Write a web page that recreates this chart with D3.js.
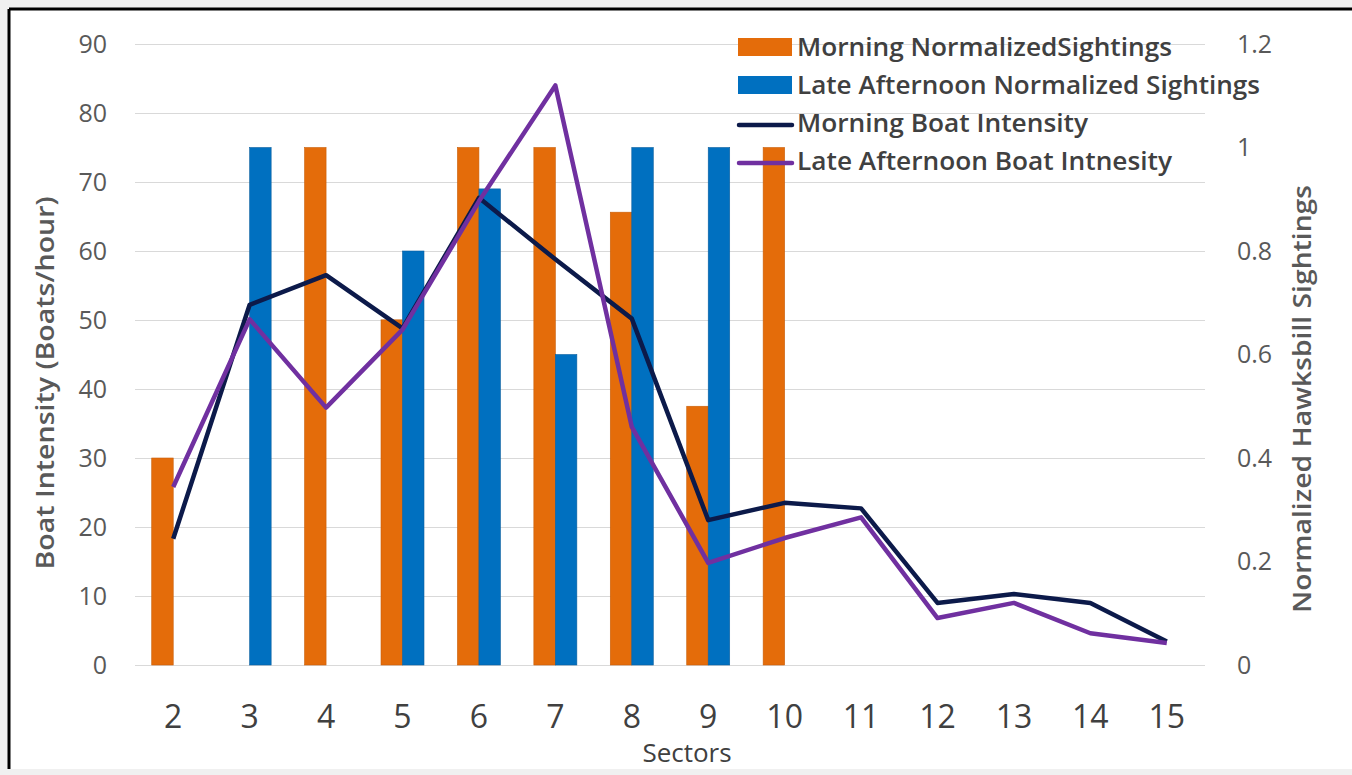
<!DOCTYPE html>
<html>
<head>
<meta charset="utf-8">
<script src="https://cdn.jsdelivr.net/npm/d3@7"></script>
<style>
  html, body { margin: 0; padding: 0; background: #f0f0f0; }
  svg { display: block; }
  text { font-family: "Open Sans", "Noto Sans", sans-serif; }
</style>
</head>
<body>
<svg id="chart" width="1352" height="775"></svg>
<script>
const sectors = [2, 3, 4, 5, 6, 7, 8, 9, 10, 11, 12, 13, 14, 15];
// normalized sightings (right axis); null = no bar
const morningSightings   = [0.4, null, 1.0, 0.667, 1.0, 1.0, 0.875, 0.5, 1.0, null, null, null, null, null];
const afternoonSightings = [null, 1.0, null, 0.8, 0.92, 0.6, 1.0, 1.0, null, null, null, null, null, null];
// boat intensity (left axis)
const morningBoats   = [18.3, 52.2, 56.5, 48.8, 67.7, 58.8, 50.2, 21.0, 23.5, 22.7, 9.0, 10.3, 9.0, 3.4];
const afternoonBoats = [25.8, 50.1, 37.3, 48.6, 67.2, 84.0, 34.5, 14.8, 18.4, 21.4, 6.8, 9.0, 4.6, 3.2];

const leftTicks = [0, 10, 20, 30, 40, 50, 60, 70, 80, 90];
const rightTicks = [0, 0.2, 0.4, 0.6, 0.8, 1, 1.2];
const rightTickLabels = ["0", "0.2", "0.4", "0.6", "0.8", "1", "1.2"];

const seriesNames = [
  "Morning NormalizedSightings",
  "Late Afternoon Normalized Sightings",
  "Morning Boat Intensity",
  "Late Afternoon Boat Intnesity"
];
const colors = { orange: "#E46C0A", blue: "#0070C0", navy: "#0C1A4A", purple: "#7030A0" };

const svg = d3.select("#chart");

// frame
svg.append("rect").attr("x", 8).attr("y", 8).attr("width", 1352 - 8).attr("height", 769 - 8).attr("fill", "#ffffff");
svg.append("line").attr("x1", 9).attr("x2", 1352).attr("y1", 9).attr("y2", 9).attr("stroke", "#000").attr("stroke-width", 3);
svg.append("line").attr("x1", 9).attr("x2", 9).attr("y1", 9).attr("y2", 769).attr("stroke", "#000").attr("stroke-width", 3);

const plot = { left: 135, right: 1205, top: 44, bottom: 665 };

const x = d3.scaleBand().domain(sectors).range([plot.left, plot.right]).paddingInner(0).paddingOuter(0);
const yL = d3.scaleLinear().domain([0, 90]).range([plot.bottom, plot.top]);
const yR = d3.scaleLinear().domain([0, 1.2]).range([plot.bottom, plot.top]);
const cx = d => x(d) + x.bandwidth() / 2;
const barW = 21.5;

// gridlines
svg.append("g").selectAll("line").data(leftTicks).join("line")
  .attr("x1", plot.left).attr("x2", plot.right)
  .attr("y1", d => Math.round(yL(d)) + 0.5).attr("y2", d => Math.round(yL(d)) + 0.5)
  .attr("stroke", "#d9d9d9").attr("stroke-width", 1);

// left axis
const axL = svg.append("g").attr("transform", `translate(${plot.left - 28},0)`)
  .call(d3.axisLeft(yL).tickValues(leftTicks).tickSize(0).tickPadding(0));
axL.select(".domain").remove();
axL.selectAll("text").attr("font-size", 25).attr("fill", "#595959")
  .attr("font-family", "'Open Sans', sans-serif").attr("dy", "0.33em");

// right axis
const axR = svg.append("g").attr("transform", `translate(1237,0)`)
  .call(d3.axisRight(yR).tickValues(rightTicks).tickSize(0).tickPadding(0)
    .tickFormat((d, i) => rightTickLabels[i]));
axR.select(".domain").remove();
axR.selectAll("text").attr("font-size", 25).attr("fill", "#595959")
  .attr("font-family", "'Open Sans', sans-serif").attr("dy", "0.33em");

// x axis labels
const axX = svg.append("g").attr("transform", `translate(0,${plot.bottom})`)
  .call(d3.axisBottom(x).tickSize(0).tickPadding(0));
axX.select(".domain").remove();
axX.selectAll("text").attr("font-size", 32).attr("fill", "#404040")
  .attr("font-family", "'Open Sans', sans-serif").attr("dy", null).attr("y", 63);

// bars
svg.append("g").selectAll("rect")
  .data(sectors.map((s, i) => ({ s, v: morningSightings[i] })).filter(d => d.v !== null))
  .join("rect")
  .attr("x", d => cx(d.s) - barW).attr("width", barW)
  .attr("y", d => yR(d.v)).attr("height", d => yR(0) - yR(d.v))
  .attr("fill", colors.orange).attr("stroke", "#c85f0a").attr("stroke-width", 0.6);
svg.append("g").selectAll("rect")
  .data(sectors.map((s, i) => ({ s, v: afternoonSightings[i] })).filter(d => d.v !== null))
  .join("rect")
  .attr("x", d => cx(d.s)).attr("width", barW)
  .attr("y", d => yR(d.v)).attr("height", d => yR(0) - yR(d.v))
  .attr("fill", colors.blue).attr("stroke", "#0a5f9e").attr("stroke-width", 0.6);

// lines
const line = d3.line().x((d, i) => cx(sectors[i])).y(d => yL(d));
svg.append("path").datum(morningBoats).attr("d", line)
  .attr("fill", "none").attr("stroke", colors.navy).attr("stroke-width", 4.5).attr("stroke-linejoin", "round");
svg.append("path").datum(afternoonBoats).attr("d", line)
  .attr("fill", "none").attr("stroke", colors.purple).attr("stroke-width", 4.5).attr("stroke-linejoin", "round");

// axis titles
svg.append("text").attr("transform", "translate(54,383) rotate(-90)")
  .attr("text-anchor", "middle").attr("font-size", 26).attr("font-weight", 600).attr("fill", "#595959")
  .attr("textLength", 373).attr("lengthAdjust", "spacingAndGlyphs")
  .text("Boat Intensity (Boats/hour)");
svg.append("text").attr("transform", "translate(1311,399) rotate(-90)")
  .attr("text-anchor", "middle").attr("font-size", 26).attr("font-weight", 600).attr("fill", "#595959")
  .attr("textLength", 428).attr("lengthAdjust", "spacingAndGlyphs")
  .text("Normalized Hawksbill Sightings");
svg.append("text").attr("x", 687).attr("y", 762)
  .attr("text-anchor", "middle").attr("font-size", 26).attr("fill", "#404040")
  .text("Sectors");

// legend
const legendRows = [
  { name: seriesNames[0], type: "rect", color: colors.orange, base: 56, len: 375 },
  { name: seriesNames[1], type: "rect", color: colors.blue, base: 94, len: 463 },
  { name: seriesNames[2], type: "line", color: colors.navy, base: 132, len: 291 },
  { name: seriesNames[3], type: "line", color: colors.purple, base: 170, len: 375 }
];
const lg = svg.append("g");
legendRows.forEach(r => {
  if (r.type === "rect") {
    lg.append("rect").attr("x", 738).attr("y", r.base - 18).attr("width", 54).attr("height", 18).attr("fill", r.color);
  } else {
    lg.append("line").attr("x1", 739).attr("x2", 792).attr("y1", r.base - 7).attr("y2", r.base - 7)
      .attr("stroke", r.color).attr("stroke-width", 4.5).attr("stroke-linecap", "round");
  }
  lg.append("text").attr("x", 797).attr("y", r.base).attr("font-size", 26).attr("font-weight", 600)
    .attr("fill", "#404040").attr("textLength", r.len).attr("lengthAdjust", "spacingAndGlyphs").text(r.name);
});
</script>
</body>
</html>
